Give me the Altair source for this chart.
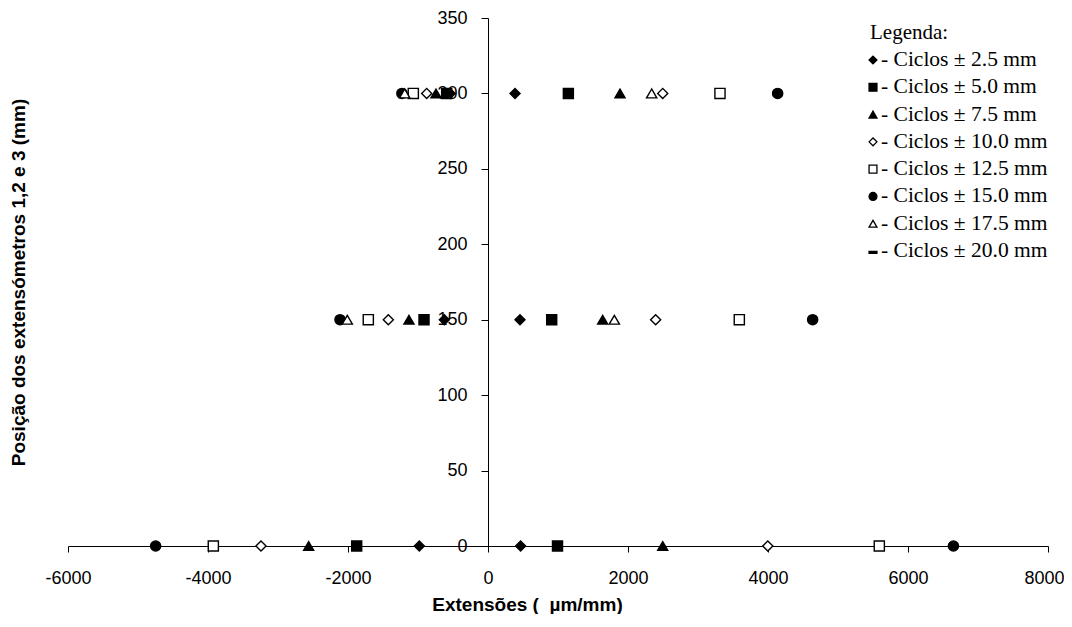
import altair as alt
import pandas as pd

series = [
    "- Ciclos ± 2.5 mm",
    "- Ciclos ± 5.0 mm",
    "- Ciclos ± 7.5 mm",
    "- Ciclos ± 10.0 mm",
    "- Ciclos ± 12.5 mm",
    "- Ciclos ± 15.0 mm",
    "- Ciclos ± 17.5 mm",
    "- Ciclos ± 20.0 mm",
]

# extensometer positions (mm) for each reading
positions = [0, 0, 150, 150, 300, 300]

# strains (µm/mm) per series, in the order of `positions`
ext_2_5 = [-981, 466, -624, 457, -540, 386]
ext_5_0 = [-1876, 993, -914, 910, -590, 1148]
ext_7_5 = [-2562, 2496, -1129, 1638, -743, 1886]
ext_10_0 = [-3243, 3997, -1424, 2395, -876, 2496]
ext_12_5 = [-3924, 5590, -1710, 3590, -1067, 3314]
ext_15_0 = [-4748, 6649, -2114, 4638, -1230, 4138]
ext_17_5 = [None, None, -2010, 1805, -1190, 2338]
ext_20_0 = [None, None, None, None, None, None]

all_ext = [ext_2_5, ext_5_0, ext_7_5, ext_10_0, ext_12_5, ext_15_0, ext_17_5, ext_20_0]

rows = []
for i, (s, vals) in enumerate(zip(series, all_ext)):
    for p, v in zip(positions, vals):
        if v is not None:
            rows.append({"serie": s, "ext": v, "pos": p, "ord": i})
df = pd.DataFrame(rows)
legdf = pd.DataFrame({"serie": series})
titledf = pd.DataFrame({"t": ["Legenda:"]})

shapes = ["diamond", "square", "triangle-up", "diamond", "square", "circle",
          "triangle-up", "M-1,0.1L1,0.1L1,0.6L-1,0.6Z"]
fills = ["black", "black", "black", "white", "white", "black", "white", "black"]
sizes = [100, 105, 110, 70, 85, 95, 72, 100]

W, H = 980, 528

shape_enc = alt.Shape("serie:N", scale=alt.Scale(domain=series, range=shapes), legend=None)
fill_enc = alt.Fill("serie:N", scale=alt.Scale(domain=series, range=fills), legend=None)

points = alt.Chart(df).mark_point(
    filled=True, stroke="black", strokeWidth=1.4, opacity=1
).encode(
    x=alt.X(
        "ext:Q",
        scale=alt.Scale(domain=[-6000, 8000], nice=False, zero=False),
        axis=alt.Axis(
            values=[-6000, -4000, -2000, 0, 2000, 4000, 6000, 8000],
            labelExpr="'' + datum.value",
            labelOffset={"condition": {"test": "datum.value == 8000", "value": -4}, "value": 0},
            title="Extensões ( \u00a0µm/mm)",
            titleX=459,
            titleY=58,
            titleBaseline="middle",
            titleAlign="center",
            labelFlush=False,
            labelPadding=17,
            tickSize=6,
            grid=False,
        ),
    ),
    y=alt.Y(
        "pos:Q",
        scale=alt.Scale(domain=[0, 350], nice=False),
        axis=alt.Axis(
            values=[0, 50, 100, 150, 200, 250, 300, 350],
            title="Posição dos extensómetros 1,2 e 3 (mm)",
            offset=-W * 6000 / 14000,
            titleX=-470,
            titleY=H / 2,
            titleAngle=270,
            titleBaseline="middle",
            titleAlign="center",
            labelFlush=False,
            labelPadding=14,
            tickSize=7,
            grid=False,
        ),
    ),
    shape=shape_enc,
    fill=fill_enc,
    size=alt.Size("serie:N", scale=alt.Scale(domain=series, range=sizes), legend=None),
    order=alt.Order("ord:Q"),
)

leg_y = alt.Y(
    "serie:N",
    scale=alt.Scale(type="point", domain=series, range=[42, 233], padding=0),
    axis=None,
)

leg_pts = alt.Chart(legdf).mark_point(
    filled=True, stroke="black", strokeWidth=1.3, opacity=1, size=62
).encode(
    x=alt.value(805),
    y=leg_y,
    shape=shape_enc,
    fill=fill_enc,
)

leg_txt = alt.Chart(legdf).mark_text(
    align="left", baseline="middle", font="Liberation Serif", fontSize=21.5, color="black"
).encode(
    x=alt.value(813),
    y=leg_y,
    text="serie:N",
)

leg_title = alt.Chart(titledf).mark_text(
    align="left", baseline="middle", font="Liberation Serif", fontSize=21, color="black"
).encode(
    x=alt.value(802),
    y=alt.value(15),
    text="t:N",
)

chart = alt.layer(points, leg_pts, leg_txt, leg_title).resolve_scale(
    y="independent"
).properties(
    width=W,
    height=H,
    autosize=alt.AutoSizeParams(type="none"),
    padding={"left": 60, "top": 10, "right": 16, "bottom": 68},
).configure_view(
    stroke=None
).configure_axis(
    labelFont="Liberation Sans",
    labelFontSize=18,
    labelColor="black",
    titleFont="Liberation Sans",
    titleFontSize=19,
    titleFontWeight="bold",
    titleColor="black",
    domainColor="black",
    tickColor="black",
    domainWidth=1,
)

chart.save("out.html", embed_options={"renderer": "svg", "actions": False})
